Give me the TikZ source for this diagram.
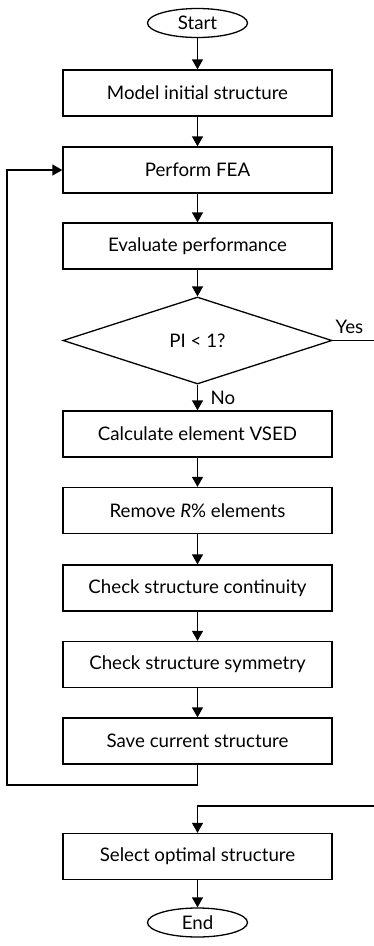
\documentclass[tikz,border=0pt]{standalone}
\usepackage{fontspec}
\setmainfont{Lato}
\usetikzlibrary{shapes.geometric,arrows.meta}
\begin{document}
\begin{tikzpicture}[x=1pt,y=-1pt,
  every node/.style={font=\fontsize{18.7}{22}\selectfont},
  box/.style={draw,rectangle,line width=1.3pt,minimum width=269pt,minimum height=46pt,inner sep=0pt},
  term/.style={draw,ellipse,line width=1.3pt,minimum width=100pt,minimum height=29pt,inner sep=0pt},
  dec/.style={draw,diamond,line width=1.3pt,minimum width=269pt,minimum height=87pt,inner sep=0pt,aspect=3.1},
  conn/.style={line width=1.3pt},
  arr/.style={conn,-{Triangle[width=11pt,length=10pt]}},
  lbl/.style={inner sep=0pt}]
\useasboundingbox (0,0) rectangle (374,946);
\node[term] (start) at (197.5,23) {Start};
\node[box] (b1) at (197.5,93) {Model initial structure};
\node[box] (b2) at (197.5,170) {Perform FEA};
\node[box] (b3) at (197.5,246) {Evaluate performance};
\node[dec] (dia) at (197.5,340.5) {PI < 1?};
\node[box] (b4) at (197.5,434) {Calculate element VSED};
\node[box] (b5) at (197.5,510.5) {Remove \textit{R}\% elements};
\node[box] (b6) at (197.5,588) {Check structure continuity};
\node[box] (b7) at (197.5,664.5) {Check structure symmetry};
\node[box] (b8) at (197.5,741) {Save current structure};
\node[box] (b9) at (197.5,856.5) {Select optimal structure};
\node[term] (end) at (197.5,922.5) {End};
\node[lbl] (yes) at (349.5,327) {Yes};
\node[lbl] (no) at (223,398) {No};
\coordinate (fb) at (7,785);
\coordinate (ye) at (377,340.5);
\coordinate (yb) at (377,806);
\draw[arr] (start) -- (b1);
\draw[arr] (b1) -- (b2);
\draw[arr] (b2) -- (b3);
\draw[arr] (b3) -- (dia);
\draw[arr] (dia) -- (b4);
\draw[arr] (b4) -- (b5);
\draw[arr] (b5) -- (b6);
\draw[arr] (b6) -- (b7);
\draw[arr] (b7) -- (b8);
\draw[arr] (b8.south) |- (fb) |- (b2.west);
\draw[arr] (dia.east) -- (ye) -- (yb) -| (b9.north);
\draw[arr] (b9) -- (end);
\end{tikzpicture}
\end{document}
